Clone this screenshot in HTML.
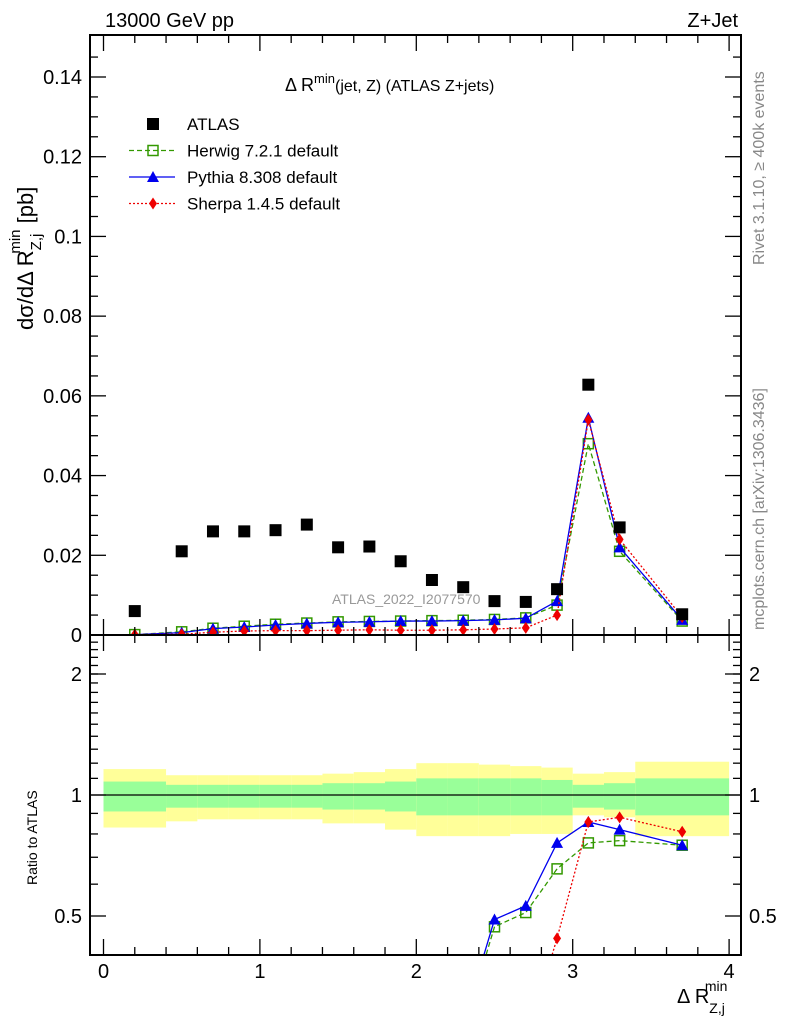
<!DOCTYPE html>
<html><head><meta charset="utf-8"><style>
html,body{margin:0;padding:0;background:#fff;}
svg{display:block;font-family:"Liberation Sans",Arial,sans-serif;}
</style></head><body>
<svg id="c" width="786" height="1024" viewBox="0 0 786 1024" xmlns="http://www.w3.org/2000/svg">
<g id="bands"></g>
<g id="marks"></g>
<g id="axes"></g>
<text x="105" y="27" font-size="20">13000 GeV pp</text>
<text x="738" y="27" font-size="20" text-anchor="end">Z+Jet</text>
<text x="285" y="91" font-size="18">Δ R<tspan dy="-8" font-size="13">min</tspan><tspan dy="8" font-size="16">(jet, Z)</tspan><tspan font-size="16"> (ATLAS Z+jets)</tspan></text>
<text x="332" y="604" font-size="14" fill="#999">ATLAS_2022_I2077570</text>
<text transform="translate(764,265) rotate(-90)" font-size="16" fill="#888">Rivet 3.1.10, ≥ 400k events</text>
<text transform="translate(764,630) rotate(-90)" font-size="16" fill="#888">mcplots.cern.ch [arXiv:1306.3436]</text>
<text transform="translate(33,330) rotate(-90)" font-size="22">dσ/dΔ R<tspan dy="8" font-size="15">Z,j</tspan><tspan dx="-20" dy="-21" font-size="15">min</tspan><tspan dy="13"> [pb]</tspan></text>
<text transform="translate(37,885) rotate(-90)" font-size="14">Ratio to ATLAS</text>
<text x="677" y="1003" font-size="20">Δ R<tspan dy="10" font-size="14">Z,j</tspan><tspan dx="-20" dy="-22" font-size="14">min</tspan></text>
<g id="legend"></g>
</svg>
<script>
const xs = [0.2,0.5,0.7,0.9,1.1,1.3,1.5,1.7,1.9,2.1,2.3,2.5,2.7,2.9,3.1,3.3,3.7];
const atlas = [0.006,0.021,0.026,0.026,0.0263,0.0277,0.022,0.0222,0.0185,0.0138,0.012,0.0085,0.0083,0.0115,0.0628,0.027,0.0052];
const herwig = [0.0001,0.0008,0.0017,0.0022,0.0027,0.003,0.0033,0.0034,0.0035,0.0036,0.0037,0.0039,0.0043,0.0075,0.048,0.021,0.0035];
const pythia = [0.0001,0.0006,0.0016,0.002,0.0025,0.0029,0.0032,0.0033,0.0035,0.0035,0.0036,0.0038,0.0042,0.0085,0.0545,0.022,0.0038];
const sherpa = [0.0001,0.0002,0.0007,0.001,0.0011,0.0011,0.0012,0.0013,0.0012,0.0012,0.0013,0.0015,0.0018,0.005,0.054,0.024,0.0045];
const ratioX = [2.5,2.7,2.9,3.1,3.3,3.7];
const herwigRatio = [0.47,0.51,0.655,0.76,0.77,0.75];
const pythiaRatio = [0.49,0.53,0.76,0.857,0.82,0.75];
const sherpaX = [2.9,3.1,3.3,3.7];
const sherpaRatio = [0.44,0.857,0.88,0.81];
const binEdges = [0,0.4,0.6,0.8,1.0,1.2,1.4,1.6,1.8,2.0,2.2,2.4,2.6,2.8,3.0,3.2,3.4,4.0];
const yelUp = [1.16,1.12,1.12,1.12,1.12,1.12,1.13,1.14,1.16,1.2,1.2,1.19,1.18,1.17,1.13,1.14,1.21];
const yelDn = [0.83,0.86,0.87,0.87,0.87,0.87,0.85,0.85,0.82,0.79,0.79,0.79,0.8,0.8,0.89,0.88,0.79];
const grnUp = [1.08,1.06,1.06,1.06,1.06,1.06,1.07,1.07,1.08,1.1,1.1,1.1,1.1,1.09,1.06,1.07,1.1];
const grnDn = [0.91,0.93,0.93,0.93,0.93,0.93,0.92,0.92,0.91,0.89,0.89,0.89,0.89,0.89,0.93,0.92,0.89];
const mainTicks = [0,0.02,0.04,0.06,0.08,0.1,0.12,0.14];
const mainTickLabels = ["0","0.02","0.04","0.06","0.08","0.1","0.12","0.14"];
const xTicks = [0,1,2,3,4];
const ratioTicks = [0.5,1,2];

const NS="http://www.w3.org/2000/svg";
const L=90,R=741,T=35,MB=635,RB=955;
const X=v=>103.5+v*156.4;
const Y=v=>MB-v*(MB-77)/0.14;
const RY=v=>795-121*Math.log2(v);
function mk(tag,attrs,parent){const e=document.createElementNS(NS,tag);for(const k in attrs)e.setAttribute(k,attrs[k]);parent.appendChild(e);return e;}
const bands=document.getElementById('bands'),marks=document.getElementById('marks'),axes=document.getElementById('axes'),legend=document.getElementById('legend');

for(let i=0;i<yelUp.length;i++){
  const x0=X(binEdges[i]),x1=X(binEdges[i+1]);
  let e=mk('rect',{x:x0,y:RY(yelUp[i]),width:x1-x0,height:RY(yelDn[i])-RY(yelUp[i]),fill:'#ffff99'},bands);
  
  
  e=mk('rect',{x:x0,y:RY(grnUp[i]),width:x1-x0,height:RY(grnDn[i])-RY(grnUp[i]),fill:'#99ff99'},bands);
  
  
}
mk('line',{x1:L,x2:R,y1:RY(1),y2:RY(1),stroke:'#000','stroke-width':1.3},bands);

const defs=mk('defs',{},marks);
const cp=mk('clipPath',{id:'rc'},defs);mk('rect',{x:L,y:MB,width:R-L,height:RB-MB},cp);
const cm=mk('clipPath',{id:'mc'},defs);mk('rect',{x:L,y:T,width:R-L,height:MB-T},cm);

function marker(type,x,y,color,g){
  let e;
  if(type==='sq') e=mk('rect',{x:x-5,y:y-5,width:10,height:10,fill:'none',stroke:color,'stroke-width':1.5},g);
  else if(type==='tri') e=mk('polygon',{points:`${x},${y-6} ${x-6},${y+5} ${x+6},${y+5}`,fill:color},g);
  else if(type==='dia') e=mk('polygon',{points:`${x},${y-6} ${x-4},${y} ${x},${y+6} ${x+4},${y}`,fill:color},g);
  else e=mk('rect',{x:x-6,y:y-6,width:12,height:12,fill:color},g);
  return e;
}
const series=[
 {name:'herwig',vals:herwig,rx:ratioX,rv:herwigRatio,color:'#339900',dash:'5,3',type:'sq'},
 {name:'pythia',vals:pythia,rx:ratioX,rv:pythiaRatio,color:'#0000ee',dash:'',type:'tri'},
 {name:'sherpa',vals:sherpa,rx:sherpaX,rv:sherpaRatio,color:'#ee0000',dash:'2,2',type:'dia'}];
for(const s of series){
  const g=mk('g',{'clip-path':'url(#mc)'},marks);
  
  
  mk('polyline',{points:xs.map((x,i)=>X(x)+','+Y(s.vals[i])).join(' '),fill:'none',stroke:s.color,'stroke-width':1.3,'stroke-dasharray':s.dash},g);
  xs.forEach((x,i)=>{const e=marker(s.type,X(x),Y(s.vals[i]),s.color,g);
    
    });
  const gr=mk('g',{'clip-path':'url(#rc)'},marks);
  
  
  const pts=s.rx.map((x,i)=>[X(x),RY(s.rv[i])]);
  const first=[X(s.rx[0]-0.2),RY(s.rv[0]*0.55)];
  mk('polyline',{points:[first,...pts].map(p=>p.join(',')).join(' '),fill:'none',stroke:s.color,'stroke-width':1.3,'stroke-dasharray':s.dash},gr);
  pts.forEach(p=>{const e=marker(s.type,p[0],p[1],s.color,gr);
    
    });
}
const ga=mk('g',{},marks);


xs.forEach((x,i)=>{const e=marker('full',X(x),Y(atlas[i]),'#000',ga);
  
  });

mk('rect',{x:L,y:T,width:R-L,height:MB-T,fill:'none',stroke:'#000','stroke-width':2},axes);
mk('rect',{x:L,y:MB,width:R-L,height:RB-MB,fill:'none',stroke:'#000','stroke-width':2},axes);
for(let v=0;v<=0.15;v+=0.005){const y=Y(v);if(y<T)break;const maj=Math.abs(v/0.02-Math.round(v/0.02))<1e-6;
  mk('line',{x1:L,x2:L+(maj?16:8),y1:y,y2:y,stroke:'#000','stroke-width':1.3},axes);
  mk('line',{x1:R,x2:R-(maj?16:8),y1:y,y2:y,stroke:'#000','stroke-width':1.3},axes);}
mainTicks.forEach((v,i)=>{const t=mk('text',{x:L-8,y:Y(v)+7,'font-size':20,'text-anchor':'end'},axes);t.textContent=mainTickLabels[i];
  
  });
for(let v=0;v<=4.001;v+=0.2){const x=X(v);const maj=Math.abs(v-Math.round(v))<1e-6;
  [[MB,-1],[T,1],[RB,-1],[MB,1]].forEach(([y0,d])=>mk('line',{x1:x,x2:x,y1:y0,y2:y0+d*(maj?16:8),stroke:'#000','stroke-width':1.3},axes));}
xTicks.forEach(v=>{const t=mk('text',{x:X(v),y:978,'font-size':20,'text-anchor':'middle'},axes);t.textContent=String(v);
  
  });
[0.4,0.5,0.6,0.7,0.8,0.9,1,2].forEach(v=>{const y=RY(v);const maj=ratioTicks.includes(v);
  mk('line',{x1:L,x2:L+(maj?16:8),y1:y,y2:y,stroke:'#000','stroke-width':1.3},axes);
  mk('line',{x1:R,x2:R-(maj?16:8),y1:y,y2:y,stroke:'#000','stroke-width':1.3},axes);});
for(let v=1.1;v<2.5;v+=0.1){const y=RY(v);if(y<MB)break;
  mk('line',{x1:L,x2:L+8,y1:y,y2:y,stroke:'#000','stroke-width':1.3},axes);
  mk('line',{x1:R,x2:R-8,y1:y,y2:y,stroke:'#000','stroke-width':1.3},axes);}
ratioTicks.forEach(v=>{[[L-8,'end'],[R+8,'start']].forEach(([x,a])=>{const t=mk('text',{x:x,y:RY(v)+7,'font-size':20,'text-anchor':a},axes);t.textContent=String(v);
  
  });});

const leg=[['ATLAS','full','#000',''],['Herwig 7.2.1 default','sq','#339900','5,3'],['Pythia 8.308 default','tri','#0000ee',''],['Sherpa 1.4.5 default','dia','#ee0000','2,2']];
leg.forEach((l,i)=>{const y=124+i*26.5;const g=mk('g',{},legend);
  
  
  if(i>0) mk('line',{x1:129,x2:175,y1:y,y2:y,stroke:l[2],'stroke-width':1.3,'stroke-dasharray':l[3]},g);
  marker(l[1],153,y,l[2],g);
  const t=mk('text',{x:187,y:y+6,'font-size':17},g);t.textContent=l[0];});
</script>
</body></html>
